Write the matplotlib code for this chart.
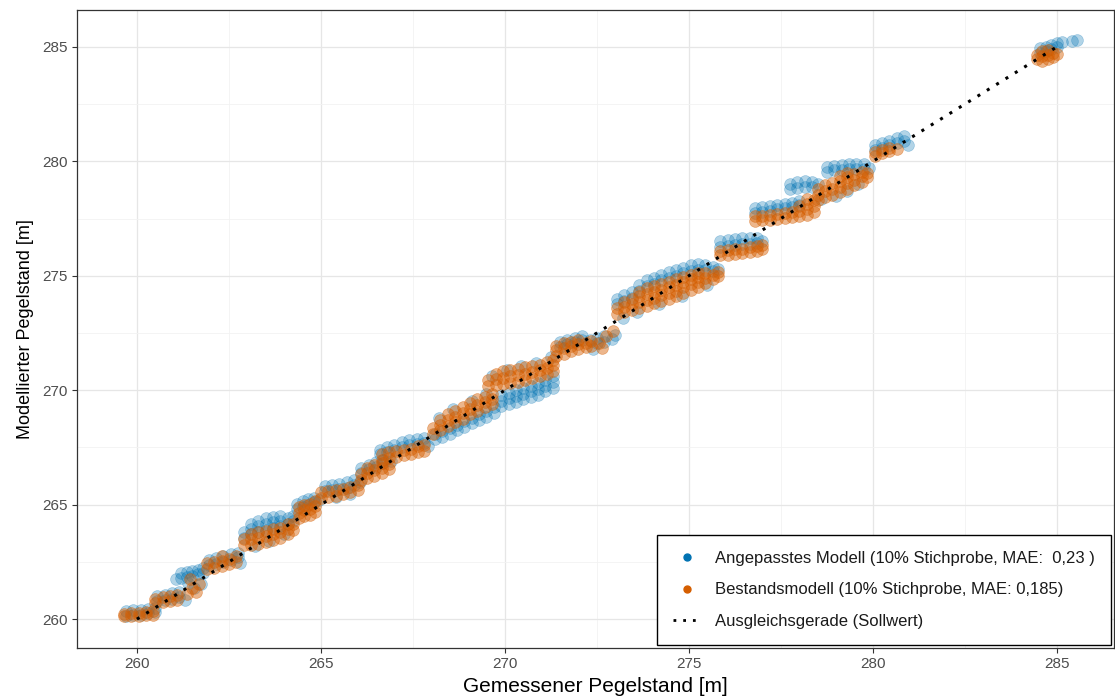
import matplotlib
matplotlib.use("Agg")
import matplotlib.pyplot as plt
from matplotlib.lines import Line2D

plt.rcParams['font.family'] = ['Liberation Sans', 'DejaVu Sans']

# ---------------- data ----------------
x_label = "Gemessener Pegelstand [m]"
y_label = "Modellierter Pegelstand [m]"
label_blue = "Angepasstes Modell (10% Stichprobe, MAE:  0,23 )"
label_orange = "Bestandsmodell (10% Stichprobe, MAE: 0,185)"
label_line = "Ausgleichsgerade (Sollwert)"
x_ticks = [260, 265, 270, 275, 280, 285]
y_ticks = [260, 265, 270, 275, 280, 285]
ideal_line = [260, 285]

# Angepasstes Modell (blue): measured value -> modelled values read at that column
blue_columns = [
    (259.7, [260.15, 260.35]), (259.9, [260.2, 260.38]), (260.1, [260.2, 260.4]), (260.3, [260.25, 260.45]),
    (260.5, [260.3, 260.5]),
    (260.55, [260.8, 261.0]), (260.75, [260.85, 261.05]), (260.95, [260.9, 261.12]), (261.15, [260.95, 261.18]),
    (261.3, [260.85]),
    (261.05, [261.75]), (261.2, [261.8, 262.0]), (261.35, [261.85, 262.05]), (261.5, [261.9, 262.1]),
    (261.65, [261.95, 262.15]), (261.8, [262.0, 262.22]), (261.55, [261.35]), (261.4, [261.6]), (261.75, [261.55]),
    (261.95, [262.35, 262.6]), (262.15, [262.4, 262.65]), (262.35, [262.5, 262.75]), (262.55, [262.6, 262.85]),
    (262.75, [262.7, 262.9]), (262.8, [262.45]),
    (262.9, [263.55, 263.8]), (263.1, [263.7, 263.95, 264.15]), (263.3, [263.8, 264.05, 264.3]),
    (263.5, [263.9, 264.15, 264.4]), (263.7, [264.0, 264.25, 264.45]), (263.9, [264.05, 264.3, 264.5]),
    (264.1, [264.15, 264.4]), (264.25, [264.3, 264.5]), (263.2, [263.2]), (263.6, [263.4]), (264.0, [263.7]),
    (264.35, [264.8, 265.05]), (264.5, [264.9, 265.15]), (264.65, [265.0, 265.25]), (264.8, [265.1, 265.3]),
    (264.95, [265.2]),
    (265.1, [265.6, 265.8]), (265.3, [265.65, 265.85]), (265.5, [265.7, 265.9]), (265.7, [265.75, 266.0]),
    (265.9, [265.85, 266.1]), (266.05, [266.0]), (265.4, [265.35]), (265.8, [265.45]),
    (266.1, [266.4, 266.6]), (266.3, [266.55, 266.75]), (266.5, [266.65, 266.85]), (266.7, [266.8, 266.95]),
    (266.9, [266.9]),
    (266.6, [267.2, 267.4]), (266.8, [267.3, 267.5]), (267.0, [267.4, 267.6]), (267.2, [267.5, 267.72]),
    (267.4, [267.6, 267.82]), (267.6, [267.65, 267.88]), (267.8, [267.7, 267.9]), (267.9, [267.55]),
    (268.1, [267.85, 268.1]), (268.3, [267.95, 268.2]), (268.5, [268.1, 268.35]), (268.7, [268.25, 268.5]),
    (268.9, [268.4, 268.65]), (269.1, [268.55, 268.8]), (269.3, [268.7, 268.95]), (269.5, [268.85, 269.1]),
    (269.7, [269.0, 269.25]), (268.2, [268.8]), (268.6, [269.2]), (269.1, [269.55]), (269.5, [269.85]),
    (269.9, [269.3, 269.55, 269.8]), (270.1, [269.4, 269.65, 269.9]), (270.3, [269.5, 269.75, 270.0]),
    (270.5, [269.6, 269.85, 270.1]), (270.7, [269.7, 269.95, 270.2]), (270.9, [269.8, 270.05, 270.3]),
    (271.1, [269.95, 270.2, 270.45]), (271.3, [270.1, 270.35, 270.6]),
    (269.65, [270.6]), (270.05, [270.9]), (270.45, [271.05]), (270.85, [271.2]), (271.25, [271.45]),
    (271.5, [271.9, 272.1]), (271.7, [272.0, 272.2]), (271.9, [272.1, 272.3]), (272.1, [272.2, 272.35]),
    (272.3, [272.2]), (272.5, [272.05, 272.3]), (272.7, [272.1, 272.35]), (272.9, [272.25]), (273.0, [272.4]),
    (272.4, [271.8]),
    (273.05, [273.75, 274.0]), (273.25, [273.9, 274.15]), (273.45, [274.05, 274.3]), (273.65, [274.35, 274.6]),
    (273.85, [274.55, 274.8]), (274.05, [274.65, 274.9]), (274.25, [274.8, 275.05]), (274.45, [274.9, 275.15]),
    (274.65, [275.0, 275.25]), (274.85, [275.1, 275.35]), (275.05, [275.2, 275.45]), (275.25, [275.25, 275.5]),
    (275.45, [275.25, 275.45]), (275.65, [275.2, 275.4]), (275.8, [275.3]),
    (273.2, [273.15]), (273.6, [273.4]), (274.2, [273.75]), (274.8, [274.1]), (275.5, [274.6]),
    (275.85, [276.25, 276.5]), (276.05, [276.3, 276.55]), (276.25, [276.35, 276.6]), (276.45, [276.4, 276.65]),
    (276.65, [276.4, 276.65]), (276.85, [276.45, 276.65]), (277.0, [276.5]),
    (276.8, [277.75, 277.95]), (277.0, [277.8, 278.0]), (277.2, [277.85, 278.05]), (277.4, [277.9, 278.1]),
    (277.6, [277.95, 278.15]), (277.8, [278.0, 278.2]), (278.0, [278.1, 278.25]),
    (277.75, [278.8, 279.0]), (277.95, [278.85, 279.1]), (278.15, [278.9, 279.15]), (278.35, [278.9, 279.1]),
    (278.5, [279.0]),
    (278.75, [279.55, 279.75]), (278.95, [279.6, 279.8]), (279.15, [279.62, 279.85]), (279.35, [279.65, 279.9]),
    (279.55, [279.65, 279.9]), (279.75, [279.65, 279.88]), (279.9, [279.7]),
    (279.0, [278.5]), (279.3, [278.7]), (279.6, [279.0]), (278.6, [278.35]),
    (280.05, [280.5, 280.7]), (280.25, [280.6, 280.8]), (280.45, [280.7, 280.9]), (280.65, [280.8, 281.0]),
    (280.85, [280.9, 281.1]), (280.95, [280.7]),
    (284.55, [284.75, 284.95]), (284.7, [284.8, 285.0]), (284.85, [284.9, 285.1]), (285.0, [285.0, 285.15]),
    (285.15, [285.2]), (285.4, [285.25]), (285.55, [285.3]),
]

# Bestandsmodell (orange): measured value -> modelled values read at that column
orange_columns = [
    (259.65, [260.12, 260.22]), (259.85, [260.12, 260.25]), (260.05, [260.13, 260.27]), (260.25, [260.16, 260.3]),
    (260.45, [260.2, 260.35]),
    (260.5, [260.7, 260.9]), (260.7, [260.75, 260.95]), (260.9, [260.8, 261.0]), (261.1, [260.85, 261.05]),
    (261.35, [261.1]), (261.5, [261.35]), (261.7, [261.55]), (261.45, [261.75]), (261.6, [261.2]),
    (261.9, [262.2, 262.45]), (262.1, [262.25, 262.5]), (262.3, [262.3, 262.55, 262.75]), (262.5, [262.4, 262.62]),
    (262.7, [262.5, 262.75]),
    (262.9, [263.25, 263.5]), (263.1, [263.25, 263.5, 263.7]), (263.3, [263.3, 263.55, 263.8]),
    (263.5, [263.38, 263.62, 263.85]), (263.7, [263.45, 263.7, 263.92]), (263.9, [263.55, 263.8, 264.0]),
    (264.1, [263.7, 263.95, 264.15]), (264.25, [263.9, 264.15]),
    (264.4, [264.4, 264.65, 264.9]), (264.55, [264.5, 264.75, 265.0]), (264.7, [264.55, 264.8, 265.05]),
    (264.85, [264.7, 264.95, 265.15]),
    (265.0, [265.3, 265.55]), (265.2, [265.35, 265.6]), (265.4, [265.4, 265.65]), (265.6, [265.45, 265.7]),
    (265.8, [265.55, 265.78]), (266.0, [265.65, 265.88]),
    (266.1, [266.1, 266.35]), (266.25, [266.15, 266.4, 266.6]), (266.45, [266.25, 266.5, 266.72]),
    (266.65, [266.4, 266.62, 266.82]), (266.85, [266.55, 266.78]),
    (266.65, [266.95, 267.2]), (266.85, [267.05, 267.28]), (267.05, [267.1, 267.35]), (267.25, [267.15, 267.4]),
    (267.45, [267.22, 267.45]), (267.65, [267.3, 267.55]), (267.8, [267.35, 267.6]),
    (268.05, [268.1, 268.35]), (268.25, [268.25, 268.5, 268.7]), (268.45, [268.45, 268.7, 268.95]),
    (268.65, [268.6, 268.85, 269.1]), (268.85, [268.75, 269.0, 269.25]), (269.05, [268.95, 269.2, 269.45]),
    (269.25, [269.1, 269.35, 269.6]), (269.45, [269.25, 269.5, 269.72]), (269.65, [269.4, 269.62, 269.82]),
    (269.55, [270.2, 270.45]), (269.75, [270.25, 270.5, 270.7]), (269.95, [270.28, 270.55, 270.82]),
    (270.15, [270.32, 270.6, 270.88]), (270.35, [270.38, 270.65, 270.92]), (270.55, [270.45, 270.72, 271.0]),
    (270.75, [270.52, 270.8, 271.05]), (270.95, [270.6, 270.88, 271.12]), (271.15, [270.72, 270.98, 271.22]),
    (271.3, [270.85, 271.1, 271.32]),
    (271.4, [271.5, 271.75, 271.95]), (271.6, [271.6, 271.85, 272.05]), (271.8, [271.7, 271.92, 272.12]),
    (272.0, [271.8, 272.0, 272.2]), (272.2, [271.88, 272.08]), (272.35, [271.95, 272.15]),
    (272.55, [272.05]), (272.75, [272.35]), (272.95, [272.6]), (272.65, [271.85]),
    (273.05, [273.35, 273.6]), (273.25, [273.4, 273.65, 273.85]), (273.45, [273.5, 273.75, 274.0]),
    (273.65, [273.6, 273.85, 274.1, 274.3]), (273.85, [273.7, 273.95, 274.2, 274.45]),
    (274.05, [273.8, 274.05, 274.3, 274.55]), (274.25, [273.9, 274.15, 274.4, 274.65]),
    (274.45, [274.0, 274.25, 274.5, 274.75]), (274.65, [274.1, 274.35, 274.6, 274.85]),
    (274.85, [274.25, 274.5, 274.72, 274.95]), (275.05, [274.4, 274.62, 274.85, 275.05]),
    (275.25, [274.5, 274.72, 274.95, 275.1]), (275.45, [274.7, 274.9, 275.1]), (275.65, [274.85, 275.05]),
    (275.8, [275.0, 275.15]),
    (275.85, [275.9, 276.1]), (276.05, [275.92, 276.12]), (276.25, [275.95, 276.15]), (276.45, [275.98, 276.18]),
    (276.65, [276.05, 276.25]), (276.85, [276.1, 276.3]), (277.0, [276.15, 276.35]),
    (276.8, [277.4, 277.6]), (277.0, [277.42, 277.62]), (277.2, [277.45, 277.65]), (277.4, [277.5, 277.7]),
    (277.6, [277.52, 277.75]), (277.8, [277.55, 277.8]), (278.0, [277.6, 277.85, 278.05]),
    (278.2, [277.65, 277.9, 278.15, 278.35]), (278.4, [277.8, 278.05, 278.3]),
    (278.5, [278.3, 278.55, 278.8]), (278.7, [278.45, 278.7, 278.95]), (278.9, [278.55, 278.8, 279.05]),
    (279.1, [278.65, 278.9, 279.15, 279.35]), (279.3, [278.8, 279.05, 279.3, 279.5]),
    (279.5, [278.95, 279.2, 279.45]), (279.7, [279.1, 279.35, 279.55]), (279.85, [279.3, 279.5]),
    (280.05, [280.25, 280.4]), (280.25, [280.35, 280.5]), (280.45, [280.45, 280.6]), (280.65, [280.55]),
    (284.45, [284.45, 284.65]), (284.6, [284.4, 284.6, 284.8]), (284.75, [284.45, 284.65, 284.85]),
    (284.9, [284.55, 284.75]), (285.0, [284.7]),
]

blue_x = [x for x, ys in blue_columns for _ in ys]
blue_y = [y for _, ys in blue_columns for y in ys]
orange_x = [x for x, ys in orange_columns for _ in ys]
orange_y = [y for _, ys in orange_columns for y in ys]

# ---------------- styling ----------------
BLUE = "#0072B2"
ORANGE = "#D55E00"
TXT = "#4D4D4D"

fig = plt.figure(figsize=(11.15, 7.0), dpi=100)
ax = fig.add_axes([0.069, 0.074, 0.930, 0.912])

ax.scatter(blue_x, blue_y, s=72, color=BLUE, alpha=0.30, edgecolors=BLUE, linewidths=0.5, zorder=2)
ax.scatter(orange_x, orange_y, s=72, color=ORANGE, alpha=0.45, edgecolors=ORANGE, linewidths=0.5, zorder=3)
ax.plot(ideal_line, ideal_line, color="black", linewidth=2.2, linestyle=(0, (1, 2.6)), zorder=4)

ax.set_xlim(258.37, 286.55)
ax.set_ylim(258.73, 286.62)
ax.set_xticks(x_ticks)
ax.set_yticks(y_ticks)
ax.set_xticks([262.5, 267.5, 272.5, 277.5, 282.5], minor=True)
ax.set_yticks([262.5, 267.5, 272.5, 277.5, 282.5], minor=True)
ax.grid(which="major", color="#E6E6E6", linewidth=0.9, zorder=0)
ax.grid(which="minor", color="#F2F2F2", linewidth=0.6, zorder=0)
ax.set_axisbelow(True)
ax.tick_params(which="major", length=3.5, width=0.8, color="#333333", labelcolor=TXT, labelsize=11, pad=3)
ax.tick_params(which="minor", length=0)
for sp in ax.spines.values():
    sp.set_color("#333333")
    sp.set_linewidth(0.9)

ax.set_xlabel(x_label, fontsize=15, color="black", labelpad=4)
ax.set_ylabel(y_label, fontsize=13, color="black", labelpad=6)

handles = [
    Line2D([], [], marker="o", linestyle="none", color=BLUE, markersize=5),
    Line2D([], [], marker="o", linestyle="none", color=ORANGE, markersize=5),
    Line2D([], [], color="black", linewidth=2, linestyle=(0, (1, 2.5))),
]
leg = ax.legend(handles, [label_blue, label_orange, label_line], loc="lower right",
                bbox_to_anchor=(1.0, 0.0), borderaxespad=0.2, fontsize=12,
                frameon=True, fancybox=False, handlelength=1.6, handletextpad=0.9,
                labelspacing=1.0, borderpad=0.95)
leg.get_frame().set_edgecolor("black")
leg.get_frame().set_linewidth(1.0)
leg.get_frame().set_alpha(1.0)
for t in leg.get_texts():
    t.set_color("#1A1A1A")

fig.savefig("out.png", dpi=100)
